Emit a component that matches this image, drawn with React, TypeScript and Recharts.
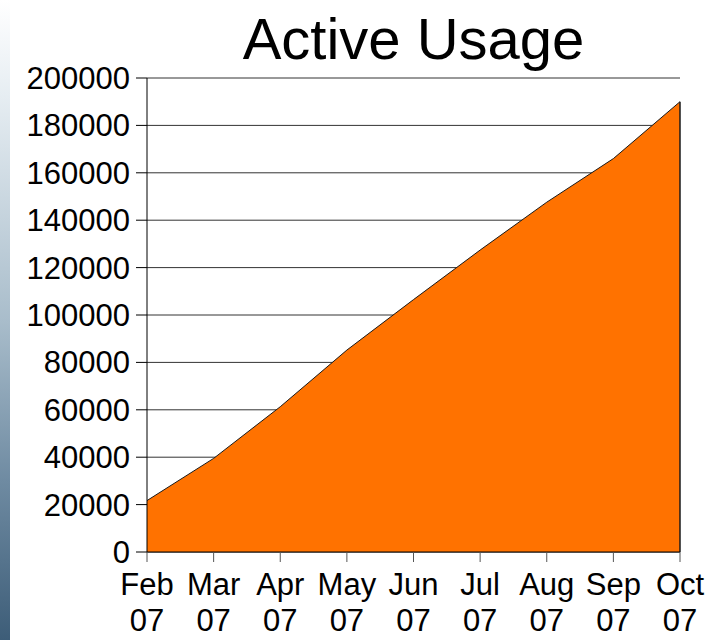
import { AreaChart, Area, XAxis, YAxis, CartesianGrid, ReferenceLine } from 'recharts'

const MONTHS = ['Feb 07', 'Mar 07', 'Apr 07', 'May 07', 'Jun 07', 'Jul 07', 'Aug 07', 'Sep 07', 'Oct 07']
const USERS = [21700, 39500, 61300, 85200, 106500, 127400, 147600, 166000, 190000]
const Y_TICKS = [0, 20000, 40000, 60000, 80000, 100000, 120000, 140000, 160000, 180000, 200000]

const data = MONTHS.map((m, i) => ({ month: m, users: USERS[i] }))
const last = data[data.length - 1]

const FONT = '"Liberation Sans", Arial, sans-serif'

function MonthTick({ x, y, payload }: any) {
  const [mon, yr] = String(payload.value).split(' ')
  return (
    <text x={x} y={y} textAnchor="middle" fontSize={31} fontFamily={FONT} fill="#000">
      <tspan x={x} dy={31}>{mon}</tspan>
      <tspan x={x} dy={36}>{yr}</tspan>
    </text>
  )
}

export default function App() {
  return (
    <div style={{ position: 'absolute', left: 0, top: 0, width: 716, height: 640, background: '#fff', overflow: 'hidden' }}>
      <div
        style={{
          position: 'absolute', left: 0, top: 0, width: 10, height: 640,
          background: 'linear-gradient(to bottom, #ffffff 0%, #e6edf2 15%, #a9bdcb 50%, #6f8ba2 75%, #3d5d78 100%)',
        }}
      />
      <div
        style={{
          position: 'absolute', left: 147, width: 533, top: 6, textAlign: 'center',
          fontFamily: FONT, fontSize: 58, color: '#000', lineHeight: '66px',
        }}
      >
        Active Usage
      </div>
      <AreaChart width={716} height={640} data={data} margin={{ top: 78, right: 36, bottom: 0, left: 0 }}>
        <CartesianGrid vertical={false} stroke="#333" strokeWidth={1} />
        <XAxis
          dataKey="month"
          height={88}
          interval={0}
          tickSize={10}
          tickLine={{ stroke: '#555' }}
          axisLine={{ stroke: '#000' }}
          tick={<MonthTick />}
        />
        <YAxis
          width={147}
          domain={[0, 200000]}
          ticks={Y_TICKS}
          interval={0}
          tickSize={11}
          tickMargin={6}
          tickLine={{ stroke: '#000' }}
          axisLine={{ stroke: '#000' }}
          tick={{ fontSize: 31, fontFamily: FONT, fill: '#000' }}
        />
        <Area
          type="linear"
          dataKey="users"
          fill="#ff7200"
          fillOpacity={1}
          stroke="#1a1a1a"
          strokeWidth={1}
          isAnimationActive={false}
        />
        <ReferenceLine
          segment={[{ x: last.month, y: 0 }, { x: last.month, y: last.users }]}
          stroke="#1a1a1a"
          strokeWidth={1.5}
        />
      </AreaChart>
    </div>
  )
}
